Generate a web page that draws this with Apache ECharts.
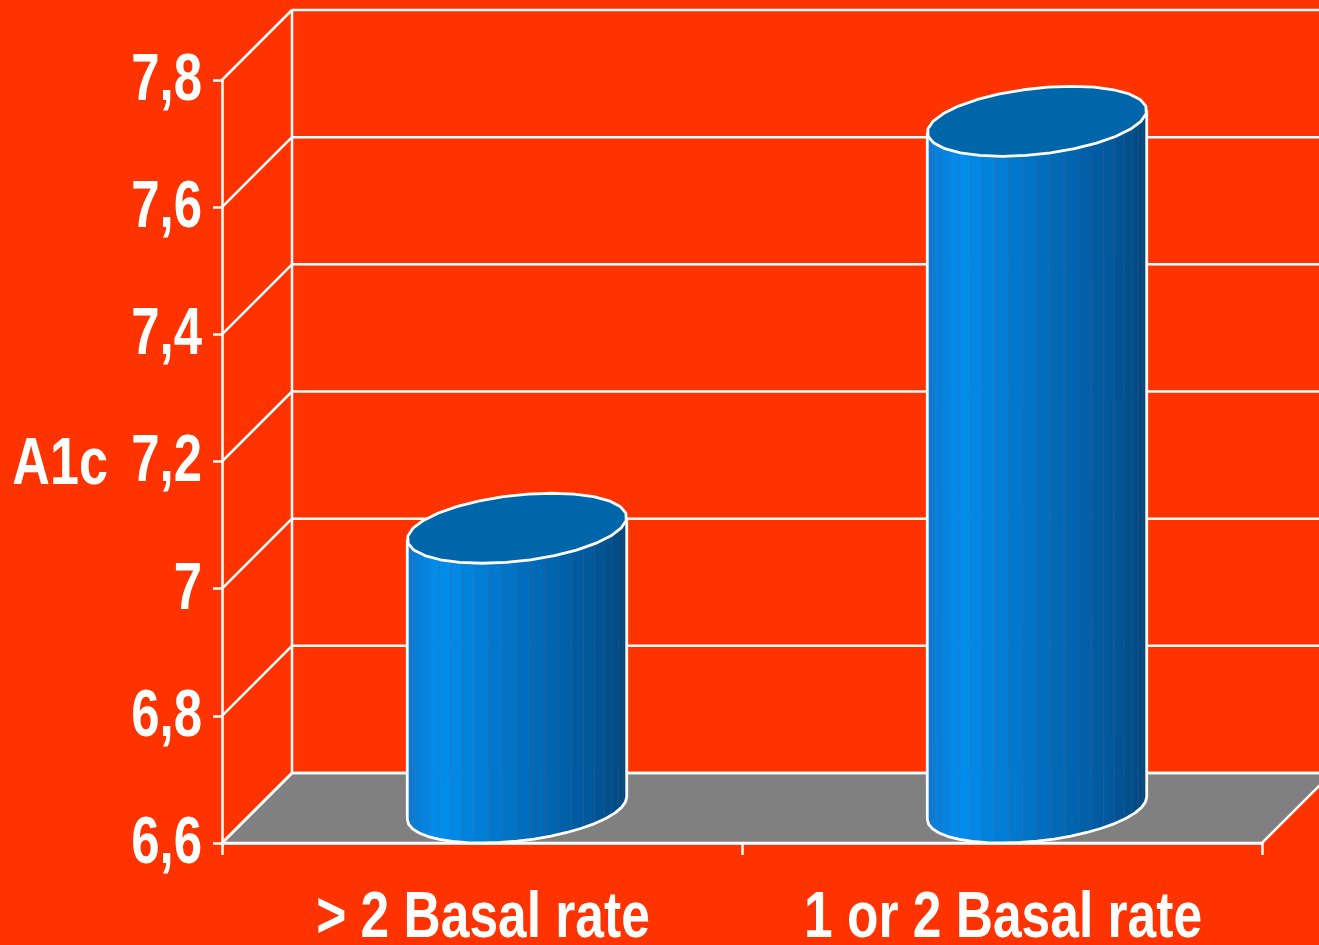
<!DOCTYPE html>
<html>
<head>
<meta charset="utf-8">
<title>A1c by basal rate</title>
<script src="https://cdn.jsdelivr.net/npm/echarts@6/dist/echarts.min.js"></script>
<style>
  html, body { margin: 0; padding: 0; background: #FF3300; }
  #chart { width: 1319px; height: 945px; }
</style>
</head>
<body>
<div id="chart"></div>
<script>
// ---- data ----
const categories = ['> 2 Basal rate', '1 or 2 Basal rate'];
const a1cValues = [7.04, 7.68];
const yTicks = [6.6, 6.8, 7.0, 7.2, 7.4, 7.6, 7.8];
const yMin = 6.6;
const yMax = 7.8;
const yStep = 0.2;
const yTitle = 'A1c';

// ---- look ----
const FONT_FAMILY = '"Liberation Sans", Arial, sans-serif';
const WHITE = '#ffffff';
const DEPTH = 70;            // oblique depth of the 3D box, px
const GRID_W = 2.5;          // white frame line width
const BODY_STOPS = [         // shading across a cylinder body, left -> right
  [0.00, [10, 122, 208]],
  [0.15, [0, 142, 238]],
  [0.50, [0, 112, 192]],
  [0.85, [0, 87, 154]],
  [1.00, [0, 72, 124]]
];

function shade(t) {
  t = Math.max(0, Math.min(1, t));
  for (let i = 1; i < BODY_STOPS.length; i++) {
    const [t1, c1] = BODY_STOPS[i];
    const [t0, c0] = BODY_STOPS[i - 1];
    if (t <= t1) {
      const k = (t - t0) / (t1 - t0);
      const c = c0.map((v, j) => Math.round(v + (c1[j] - v) * k));
      return 'rgb(' + c.join(',') + ')';
    }
  }
  return 'rgb(0,72,124)';
}

function fmtTick(v) {
  return String(+v.toFixed(1)).replace('.', ',');
}

// condensed bold label anchored at (x, y)
function label(text, x, y, size, align, vAlign, squeeze) {
  return {
    type: 'text',
    x: x,
    y: y,
    scaleX: squeeze,
    style: {
      x: 0, y: 0,
      text: text,
      fill: WHITE,
      fontFamily: FONT_FAMILY,
      fontWeight: 'bold',
      fontSize: size,
      align: align,
      verticalAlign: vAlign
    }
  };
}

// back wall grid lines, side diagonals, grey floor and value labels
function renderWall(params, api) {
  const cs = params.coordSys;
  const v = api.value(1);
  const y = api.coord([0, v])[1];
  const x0 = cs.x;
  const line = { stroke: WHITE, lineWidth: GRID_W };
  const children = [];
  if (params.dataIndex === 0) {
    children.push({
      type: 'polygon',
      shape: { points: [[x0, y], [x0 + DEPTH, y - DEPTH], [x0 + cs.width + DEPTH, y - DEPTH], [x0 + cs.width, y]] },
      style: { fill: '#808080', stroke: WHITE, lineWidth: GRID_W }
    });
    const yTop = api.coord([0, yMax])[1];
    children.push({
      type: 'line',
      shape: { x1: x0 + DEPTH, y1: y - DEPTH, x2: x0 + DEPTH, y2: yTop - DEPTH },
      style: line
    });
  }
  children.push({
    type: 'line',
    shape: { x1: x0, y1: y, x2: x0 + DEPTH, y2: y - DEPTH },
    style: line
  });
  children.push({
    type: 'line',
    shape: { x1: x0 + DEPTH, y1: y - DEPTH, x2: x0 + cs.width + DEPTH, y2: y - DEPTH },
    style: line
  });
  children.push(label(fmtTick(v), x0 - 20, y + 1.5, 67, 'right', 'middle', 0.76));
  return { type: 'group', children: children };
}

// category names under the floor
function renderCategory(params, api) {
  const i = api.value(0);
  const p = api.coord([i, yMin]);
  return label(categories[i], p[0] + 1, p[1] + 44, 64, 'center', 'top', 0.805);
}

// faceted cylinder standing in the middle of the box depth
function renderCylinder(params, api) {
  const cat = api.value(0);
  const val = api.value(1);
  const top = api.coord([cat, val]);
  const base = api.coord([cat, yMin]);
  const band = api.size([1, 0])[0];
  const r = band * 0.2;
  const d = DEPTH / 2;
  const cx = top[0] + DEPTH / 2;
  const cyTop = top[1] - DEPTH / 2;
  const cyBot = base[1] - DEPTH / 2;
  const alpha = Math.atan2(d, r);
  const half = Math.sqrt(r * r + d * d);
  const pt = (th, cy) => [cx + r * Math.cos(th) + d * Math.sin(th), cy - d * Math.sin(th)];

  const children = [];
  const N = 24;
  const start = Math.PI + alpha;
  for (let i = 0; i < N; i++) {
    const a0 = start + Math.PI * i / N;
    const a1 = start + Math.PI * (i + 1) / N;
    const p0 = pt(a0, cyTop), p1 = pt(a1, cyTop);
    const q1 = pt(a1, cyBot), q0 = pt(a0, cyBot);
    const t = ((p0[0] + p1[0]) / 2 - (cx - half)) / (2 * half);
    const c = shade(t);
    children.push({
      type: 'polygon',
      shape: { points: [p0, p1, q1, q0] },
      style: { fill: c, stroke: c, lineWidth: 0.6 }
    });
    // faint seam between facets
    children.push({
      type: 'line',
      shape: { x1: p0[0], y1: p0[1], x2: q0[0], y2: q0[1] },
      style: { stroke: 'rgba(120,90,140,0.35)', lineWidth: 0.8 }
    });
  }
  // body outline: left side, front of the base, right side
  const outline = [pt(start, cyTop)];
  const M = 20;
  for (let i = 0; i <= M; i++) outline.push(pt(start + Math.PI * i / M, cyBot));
  outline.push(pt(start + Math.PI, cyTop));
  children.push({
    type: 'polyline',
    shape: { points: outline },
    style: { stroke: WHITE, lineWidth: 2.8, fill: null, lineJoin: 'round' }
  });
  // top cap
  const cap = [];
  for (let i = 0; i < 28; i++) cap.push(pt(2 * Math.PI * i / 28, cyTop));
  children.push({
    type: 'polygon',
    shape: { points: cap },
    style: { fill: '#0066AA', stroke: WHITE, lineWidth: 2.8, lineJoin: 'round' }
  });
  return { type: 'group', children: children };
}

const chart = echarts.init(document.getElementById('chart'), null, { renderer: 'canvas' });
chart.setOption({
  backgroundColor: '#FF3300',
  animation: false,
  grid: { left: 222, right: 57, top: 80, bottom: 102, containLabel: false, outerBoundsMode: 'none' },
  graphic: [
    {
      type: 'text',
      x: 108,
      y: 465.5,
      scaleX: 0.79,
      silent: true,
      style: {
        x: 0, y: 0,
        text: yTitle,
        fill: WHITE,
        fontFamily: FONT_FAMILY,
        fontWeight: 'bold',
        fontSize: 66,
        align: 'right',
        verticalAlign: 'middle'
      }
    }
  ],
  xAxis: {
    type: 'category',
    data: categories,
    z: 10,
    axisLine: { show: true, lineStyle: { color: WHITE, width: GRID_W } },
    axisTick: { show: true, length: 12, lineStyle: { color: WHITE, width: GRID_W } },
    axisLabel: { show: false },
    splitLine: { show: false }
  },
  yAxis: {
    type: 'value',
    min: yMin,
    max: yMax,
    interval: yStep,
    z: 10,
    axisLine: { show: true, lineStyle: { color: WHITE, width: GRID_W } },
    axisTick: { show: true, length: 9, lineStyle: { color: WHITE, width: GRID_W } },
    axisLabel: { show: false },
    splitLine: { show: false }
  },
  series: [
    {
      type: 'custom',
      name: 'wall',
      silent: true,
      clip: false,
      z: 1,
      renderItem: renderWall,
      data: yTicks.map(v => [0, v])
    },
    {
      type: 'custom',
      name: 'categories',
      silent: true,
      clip: false,
      z: 3,
      renderItem: renderCategory,
      data: categories.map((c, i) => [i, yMin])
    },
    {
      type: 'custom',
      name: yTitle,
      silent: true,
      clip: false,
      z: 2,
      renderItem: renderCylinder,
      data: a1cValues.map((v, i) => [i, v])
    }
  ]
});
</script>
</body>
</html>
